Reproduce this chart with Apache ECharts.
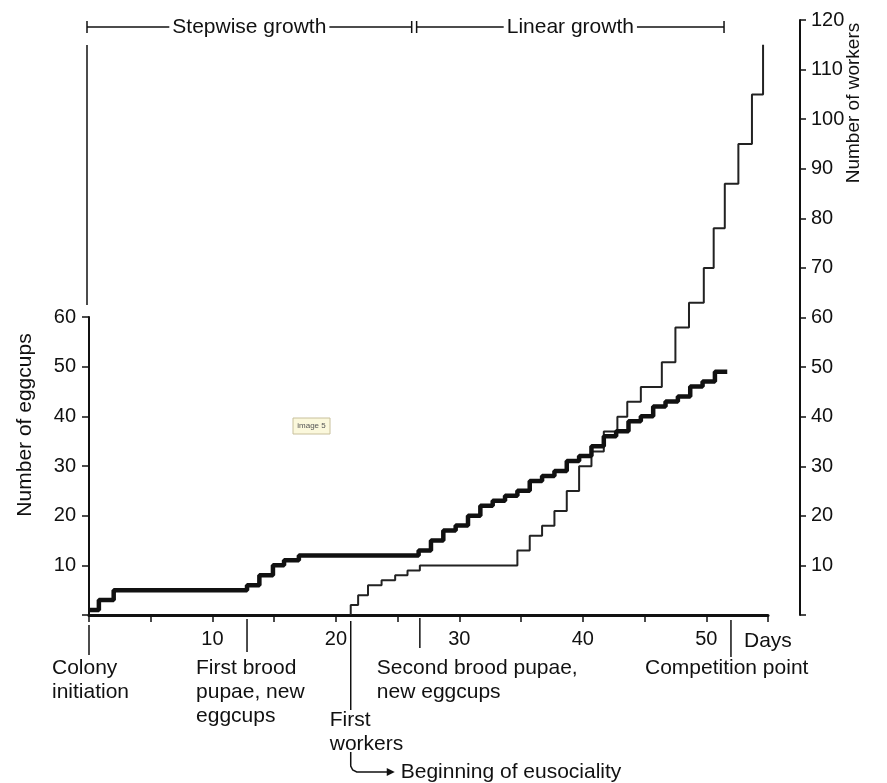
<!DOCTYPE html>
<html><head><meta charset="utf-8">
<script src="https://cdn.jsdelivr.net/npm/echarts@6/dist/echarts.min.js"></script>
<style>html,body{margin:0;padding:0;background:#fff}#c{width:887px;height:783px}</style>
</head><body><div id="c"></div>
<script>
// ---- data ----
// eggcups: [day of change, new number of eggcups]
const eggcupSteps = [
  [0,1],[0.8,3],[2.0,5],[12.8,6],[13.8,8],[14.9,10],[15.8,11],[17.0,12],
  [26.7,13],[27.7,15],[28.7,17],[29.7,18],[30.7,20],[31.7,22],[32.7,23],[33.7,24],
  [34.7,25],[35.7,27],[36.7,28],[37.7,29],[38.7,31],[39.7,32],[40.7,34],[41.7,36],
  [42.7,37],[43.7,39],[44.7,40],[45.7,42],[46.7,43],[47.7,44],[48.7,46],[49.7,47],
  [50.7,49],[51.7,49]
];
// workers: [day of change, new number of workers]
const workerSteps = [
  [21.2,0],[21.2,2],[21.8,4],[22.6,6],[23.7,7],[24.8,8],[25.8,9],[26.8,10],
  [34.7,13],[35.7,16],[36.7,18],[37.7,21],[38.7,25],[39.7,30],[40.7,33],[41.7,37],
  [42.8,40],[43.6,43],[44.7,46],[46.4,51],[47.5,58],[48.6,63],[49.8,70],[50.6,78],
  [51.5,87],[52.6,95],[53.7,105],[54.6,115]
];
const dayLabels = [10,20,30,40,50];
const eggcupTickLabels = [10,20,30,40,50,60];
const workerTickLabels = [10,20,30,40,50,60,70,80,90,100,110,120];
const phases = [
  {label:'Stepwise growth', from:0, to:26.3},
  {label:'Linear growth', from:26.7, to:51.6}
];
const eventDays = [0, 12.8, 21.2, 26.8, 52];
const eventLabels = ['Colony\ninitiation','First brood\npupae, new\neggcups','First\nworkers','Second brood pupae,\nnew eggcups','Competition point'];
const eusocialityLabel = 'Beginning of eusociality';

// ---- chart ----
const FONT = '"Liberation Sans", Arial, sans-serif';
const INK = '#111';
const chart = echarts.init(document.getElementById('c'), null, {renderer:'canvas'});
const axisText = {color:INK, fontSize:20, fontFamily:FONT};
chart.setOption({
  animation:false,
  backgroundColor:'#fff',
  grid:[
    {left:89, right:119, top:20, bottom:168},
    {left:89, right:119, top:317, bottom:168}
  ],
  xAxis:[
    {gridIndex:0, type:'value', min:0, max:55, interval:5,
     axisLine:{onZero:false, lineStyle:{color:INK, width:3}},
     axisTick:{length:7, lineStyle:{color:INK, width:1.5}},
     axisLabel:Object.assign({margin:14, formatter:v => dayLabels.includes(v) ? String(v) : ''}, axisText),
     splitLine:{show:false}},
    {gridIndex:1, type:'value', min:0, max:55, interval:5, show:false}
  ],
  yAxis:[
    {gridIndex:0, type:'value', position:'right', offset:32, min:0, max:120, interval:10,
     axisLine:{show:true, onZero:false, lineStyle:{color:INK, width:2}},
     axisTick:{show:true, length:6, lineStyle:{color:INK, width:1.5}},
     axisLabel:Object.assign({margin:11, formatter:v => workerTickLabels.includes(v) ? String(v) : ''}, axisText),
     splitLine:{show:false}},
    {gridIndex:1, type:'value', position:'left', min:0, max:60, interval:10,
     axisLine:{show:true, onZero:false, lineStyle:{color:INK, width:2}},
     axisTick:{show:true, length:7, lineStyle:{color:INK, width:1.5}},
     axisLabel:Object.assign({margin:13, formatter:v => eggcupTickLabels.includes(v) ? String(v) : ''}, axisText),
     splitLine:{show:false}}
  ],
  series:[
    {name:'Number of workers', type:'line', xAxisIndex:0, yAxisIndex:0, step:'end',
     data:workerSteps, showSymbol:false, clip:false,
     lineStyle:{color:'#222', width:2}},
    {name:'Number of eggcups', type:'line', xAxisIndex:1, yAxisIndex:1, step:'end',
     data:eggcupSteps, showSymbol:false, clip:false,
     lineStyle:{color:INK, width:4.5}}
  ]
});

// ---- annotations positioned through the axis scales ----
const X = d => chart.convertToPixel({xAxisIndex:0}, d);
const base = chart.convertToPixel({yAxisIndex:0}, 0);
const g = [];
const line = (x1,y1,x2,y2,w) => g.push({type:'line', shape:{x1,y1,x2,y2}, style:{stroke:INK, lineWidth:w||1.5}, silent:true});
const text = (t,x,y,opt) => g.push(Object.assign({type:'text', x, y, style:Object.assign({text:t, fill:INK, font:'21px '+FONT, lineHeight:24, align:'left', verticalAlign:'top'}, (opt&&opt.style)||{})}, (opt&&opt.el)||{}));

// header brackets
const hy = 27;
phases.forEach(p => {
  const a = X(p.from) - 2, b = X(p.to) - 2;
  line(a, hy, b, hy, 1.5);
  line(a, hy-6, a, hy+6, 1.5);
  line(b, hy-6, b, hy+6, 1.5);
  text(p.label, (a+b)/2, hy, {style:{align:'center', verticalAlign:'middle', backgroundColor:'#fff', padding:[0,3], lineHeight:22}});
});
// upper frame line at day 0
line(X(0)-2, 45, X(0)-2, 305, 1.5);

// event markers below the axis
const evLayout = [
  {y1:10, y2:40, dx:-37, ty:656},
  {y1:4,  y2:37, dx:-51, ty:656},
  {y1:6,  y2:95, dx:-21, ty:708},
  {y1:3,  y2:33, dx:-43, ty:656},
  {y1:5,  y2:42, dx:-86, ty:656}
];
eventDays.forEach((d,i) => {
  const x = X(d), L = evLayout[i];
  line(x, base+L.y1, x, base+L.y2, 1.5);
  text(eventLabels[i], x+L.dx, L.ty);
});
// arrow to "Beginning of eusociality"
const ax = X(eventDays[2]);
g.push({type:'polyline', shape:{points:[[ax,752],[ax,766],[ax+2,770],[ax+6,772],[ax+38,772]]}, style:{stroke:INK, lineWidth:1.5, fill:null}, silent:true});
g.push({type:'polygon', shape:{points:[[ax+44,772],[ax+36,768],[ax+36,776]]}, style:{fill:INK}, silent:true});
text(eusocialityLabel, ax+50, 760);
// "Days"
text('Days', X(55)-24, 641, {style:{verticalAlign:'middle'}});

// axis titles
text('Number of eggcups', 25, 425, {el:{rotation:Math.PI/2}, style:{align:'center', verticalAlign:'middle'}});
text('Number of workers', 854, 103, {el:{rotation:Math.PI/2}, style:{align:'center', verticalAlign:'middle', font:'19px '+FONT}});

// small "image 5" tag
g.push({type:'rect', shape:{x:293, y:418, width:37, height:16}, style:{fill:'#fbf8dc', stroke:'#c8c09c', lineWidth:1}, silent:true});
text('image 5', 311.5, 426, {style:{align:'center', verticalAlign:'middle', font:'8px '+FONT, fill:'#555', lineHeight:10}});

chart.setOption({graphic:{elements:g}});
</script>
</body></html>
